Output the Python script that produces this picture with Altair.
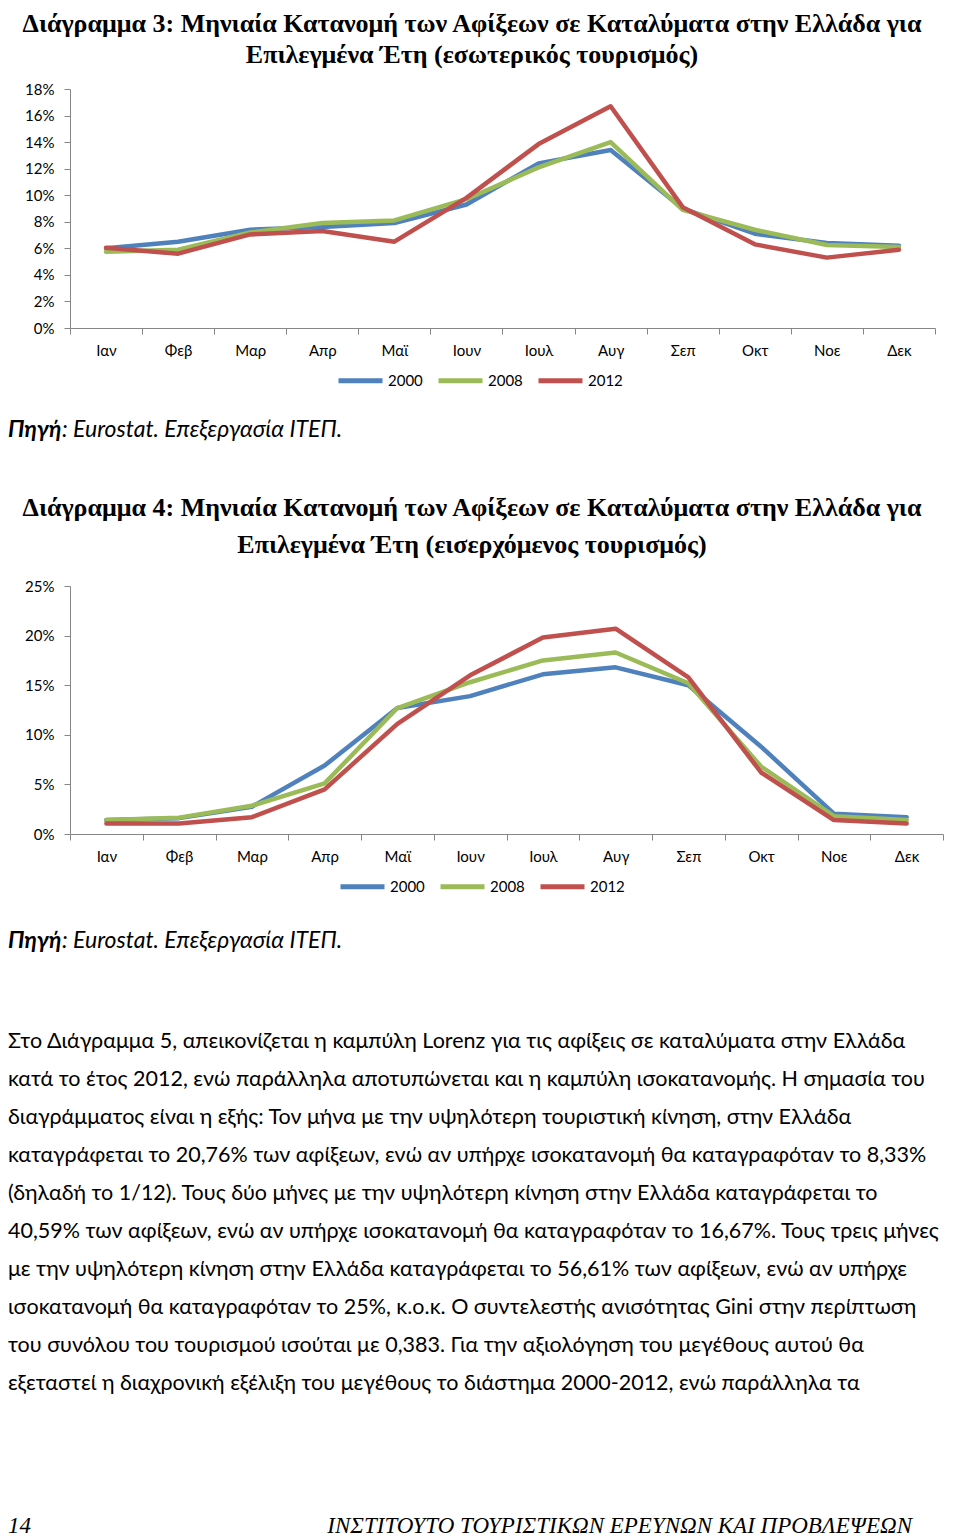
import altair as alt
import pandas as pd

# ---------------- data ----------------
months = ["Ιαν", "Φεβ", "Μαρ", "Απρ", "Μαϊ", "Ιουν", "Ιουλ", "Αυγ", "Σεπ", "Οκτ", "Νοε", "Δεκ"]
years = ["2000", "2008", "2012"]

# Διάγραμμα 3 (εσωτερικός τουρισμός), % of yearly arrivals
dom_2000 = [6.0, 6.5, 7.4, 7.6, 7.9, 9.3, 12.4, 13.4, 9.0, 7.1, 6.4, 6.2]
dom_2008 = [5.75, 5.9, 7.2, 7.9, 8.1, 9.7, 12.1, 14.0, 8.9, 7.4, 6.25, 6.1]
dom_2012 = [6.05, 5.6, 7.05, 7.3, 6.5, 9.8, 13.85, 16.7, 9.1, 6.3, 5.3, 5.9]

# Διάγραμμα 4 (εισερχόμενος τουρισμός), % of yearly arrivals
inb_2000 = [1.4, 1.6, 2.75, 6.9, 12.7, 13.9, 16.1, 16.8, 15.0, 8.8, 2.05, 1.7]
inb_2008 = [1.4, 1.65, 2.85, 5.1, 12.7, 15.3, 17.5, 18.3, 15.2, 6.8, 1.8, 1.4]
inb_2012 = [1.05, 1.05, 1.7, 4.5, 11.1, 16.0, 19.8, 20.7, 15.8, 6.2, 1.4, 1.05]

y_ticks_3 = [0, 0.02, 0.04, 0.06, 0.08, 0.10, 0.12, 0.14, 0.16, 0.18]
y_ticks_4 = [0, 0.05, 0.10, 0.15, 0.20, 0.25]

title3 = ["Διάγραμμα 3: Μηνιαία Κατανομή των Αφίξεων σε Καταλύματα στην Ελλάδα για",
          "Επιλεγμένα Έτη (εσωτερικός τουρισμός)"]
title4 = ["Διάγραμμα 4: Μηνιαία Κατανομή των Αφίξεων σε Καταλύματα στην Ελλάδα για",
          "Επιλεγμένα Έτη (εισερχόμενος τουρισμός)"]
source_bold = "Πηγή"
source_rest = ": Eurostat. Επεξεργασία ΙΤΕΠ."

paragraph = [
    "Στο Διάγραμμα 5, απεικονίζεται η καμπύλη Lorenz για τις αφίξεις σε καταλύματα στην Ελλάδα",
    "κατά το έτος 2012, ενώ παράλληλα αποτυπώνεται και η καμπύλη ισοκατανομής. Η σημασία του",
    "διαγράμματος είναι η εξής: Τον μήνα με την υψηλότερη τουριστική κίνηση, στην Ελλάδα",
    "καταγράφεται το 20,76% των αφίξεων, ενώ αν υπήρχε ισοκατανομή θα καταγραφόταν το 8,33%",
    "(δηλαδή το 1/12). Τους δύο μήνες με την υψηλότερη κίνηση στην Ελλάδα καταγράφεται το",
    "40,59% των αφίξεων, ενώ αν υπήρχε ισοκατανομή θα καταγραφόταν το 16,67%. Τους τρεις μήνες",
    "με την υψηλότερη κίνηση στην Ελλάδα καταγράφεται το 56,61% των αφίξεων, ενώ αν υπήρχε",
    "ισοκατανομή θα καταγραφόταν το 25%, κ.ο.κ. Ο συντελεστής ανισότητας Gini στην περίπτωση",
    "του συνόλου του τουρισμού ισούται με 0,383. Για την αξιολόγηση του μεγέθους αυτού θα",
    "εξεταστεί η διαχρονική εξέλιξη του μεγέθους το διάστημα 2000-2012, ενώ παράλληλα τα",
]
page_no = "14"
footer = "ΙΝΣΤΙΤΟΥΤΟ ΤΟΥΡΙΣΤΙΚΩΝ ΕΡΕΥΝΩΝ ΚΑΙ ΠΡΟΒΛΕΨΕΩΝ"


def long_df(series):
    rows = []
    for yr, vals in zip(years, series):
        for m, v in zip(months, vals):
            rows.append({"month": m, "year": yr, "value": v / 100.0})
    return pd.DataFrame(rows)


df3 = long_df([dom_2000, dom_2008, dom_2012])
df4 = long_df([inb_2000, inb_2008, inb_2012])

# ---------------- layout / style ----------------
W, H = 944, 1531
BLUE, GREEN, RED = "#4F81BD", "#9BBB59", "#C0504D"
AXC = "#868686"
SANS = "Lato"
SERIF = "Liberation Serif"


def line_chart(df, xr, yr, ydom, yvals, leg_x, leg_y):
    return alt.Chart(df).mark_line(strokeWidth=4.5, strokeJoin="round", strokeCap="round").encode(
        x=alt.X("month:N", bandPosition=0.5,
                scale=alt.Scale(type="band", domain=months, range=xr, paddingInner=0, paddingOuter=0),
                axis=alt.Axis(orient="bottom", offset=yr[0] - H, tickBand="extent", title=None,
                              labelAngle=0, domainColor=AXC, tickColor=AXC, tickSize=6,
                              labelFont=SANS, labelFontSize=15, labelColor="black",
                              labelPadding=9, grid=False)),
        y=alt.Y("value:Q",
                scale=alt.Scale(domain=ydom, range=yr, nice=False, zero=True),
                axis=alt.Axis(orient="left", offset=-xr[0], values=yvals, format=".0%", title=None,
                              domainColor=AXC, tickColor=AXC, tickSize=6, labelFont=SANS,
                              labelFontSize=15, labelColor="black", labelPadding=10, grid=False)),
        color=alt.Color("year:N",
                        scale=alt.Scale(domain=years, range=[BLUE, GREEN, RED]),
                        legend=alt.Legend(orient="none", legendX=leg_x, legendY=leg_y,
                                          direction="horizontal", title=None, symbolType="stroke",
                                          symbolSize=1936, symbolStrokeWidth=5, labelFont=SANS,
                                          labelFontSize=15, labelColor="black", labelOffset=3,
                                          columnPadding=5, padding=0)),
    )


def text_layer(text, x, y, **kw):
    return alt.Chart(alt.Data(values=[{}])).mark_text(text=text, **kw).encode(
        x=alt.value(x), y=alt.value(y))


lines3 = line_chart(df3, [62, 927], [320, 81], [0, 0.18], y_ticks_3, 328, 348)
lines4 = line_chart(df4, [62, 935], [826, 578], [0, 0.25], y_ticks_4, 330, 854)

title_style = dict(font=SERIF, fontWeight="bold", fontSize=26, align="center",
                   baseline="alphabetic", color="black")
t3a = text_layer(title3[0], 464, 24, **title_style)
t3b = text_layer(title3[1], 464, 55, **title_style)
t4a = text_layer(title4[0], 464, 508, **title_style)
t4b = text_layer(title4[1], 464, 545, **title_style)

src_style = dict(font=SANS, fontStyle="italic", fontSize=23, align="left",
                 baseline="alphabetic", color="black")
s3a = text_layer(source_bold, 0, 429, fontWeight="bold", **src_style)
s3b = text_layer(source_rest, 54, 429, **src_style)
s4a = text_layer(source_bold, 0, 940, fontWeight="bold", **src_style)
s4b = text_layer(source_rest, 54, 940, **src_style)

para = text_layer(paragraph, 0, 1040, font=SANS, fontSize=21.5, align="left", baseline="alphabetic",
                  lineHeight=38, color="black")

f1 = text_layer(page_no, 0, 1525, font=SERIF, fontStyle="italic", fontSize=23, align="left",
                baseline="alphabetic", color="black")
f2 = text_layer(footer, 904, 1525, font=SERIF, fontStyle="italic", fontSize=23, align="right",
                baseline="alphabetic", color="black")

chart = alt.layer(
    lines3, lines4, t3a, t3b, t4a, t4b, s3a, s3b, s4a, s4b, para, f1, f2
).resolve_scale(
    x="independent", y="independent", color="independent"
).properties(
    width=W, height=H, padding=0, autosize=alt.AutoSizeParams(type="none"),
    background="white"
).configure_view(stroke=None)

chart.save("out.html", embed_options={"renderer": "svg", "actions": False})
